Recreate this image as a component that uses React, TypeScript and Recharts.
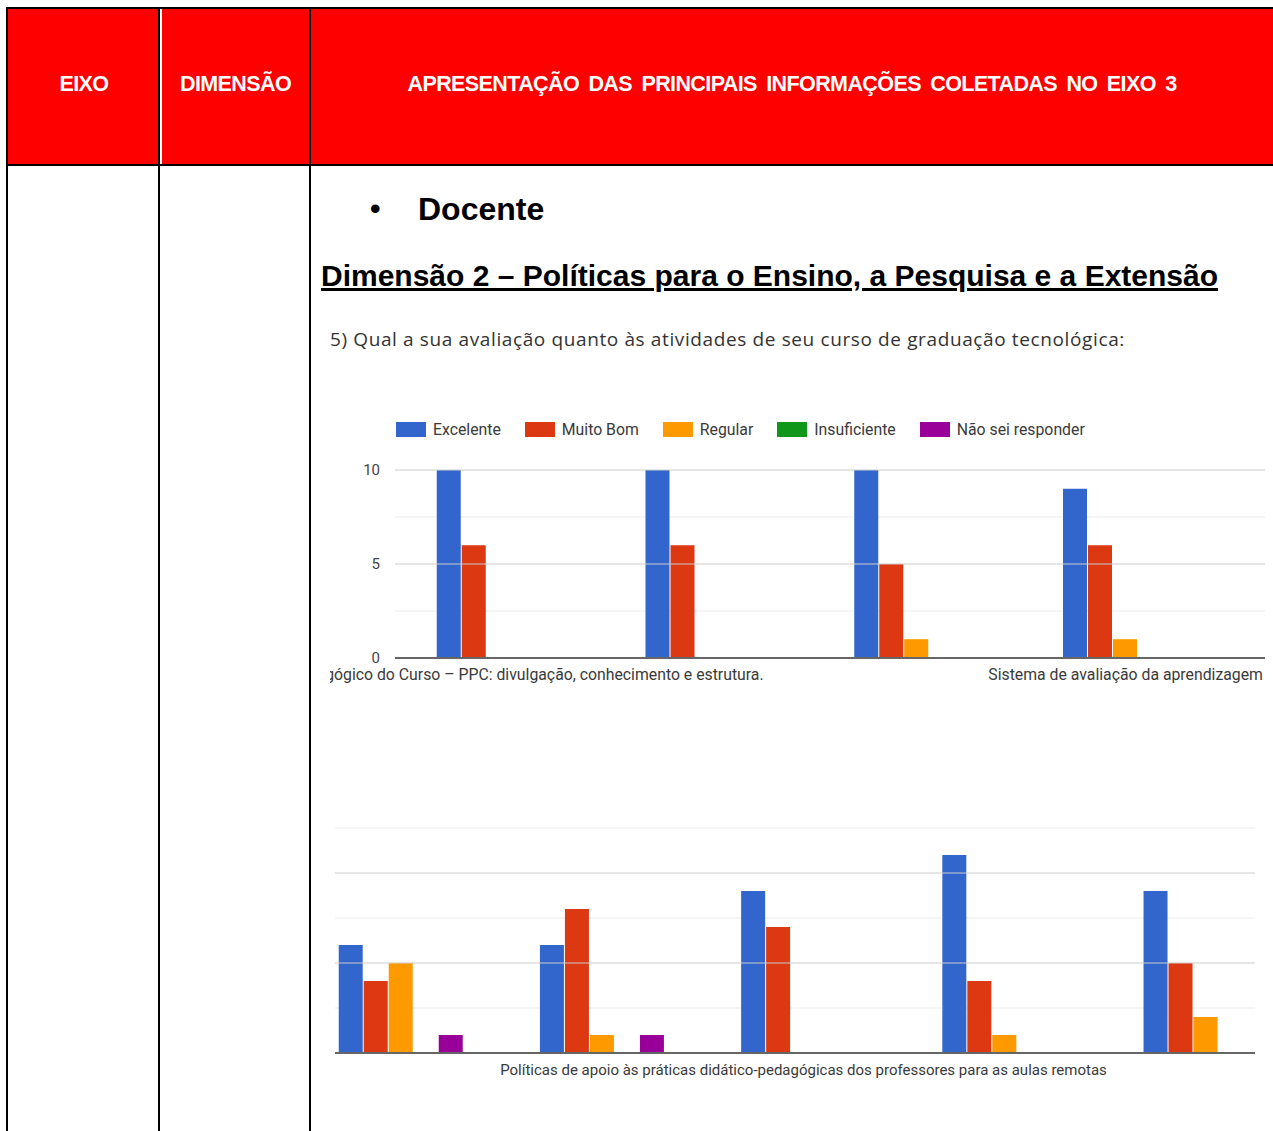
import React from "react";
import {
  BarChart,
  Bar,
  XAxis,
  YAxis,
  CartesianGrid,
  ReferenceLine,
  Legend,
} from "recharts";

const seriesNames = ["Excelente", "Muito Bom", "Regular", "Insuficiente", "Não sei responder"];
const seriesKeys = ["excelente", "muitoBom", "regular", "insuficiente", "naoSei"];
const seriesColors = ["#3366cc", "#dc3912", "#ff9900", "#109618", "#990099"];

// first chart: four items, only first and last labels are visible
const chart1Categories = [
  "Projeto Pedagógico do Curso – PPC: divulgação, conhecimento e estrutura.",
  "",
  "",
  "Sistema de avaliação da aprendizagem",
];
const chart1Excelente = [10, 10, 10, 9];
const chart1MuitoBom = [6, 6, 5, 6];
const chart1Regular = [0, 0, 1, 1];
const chart1Insuficiente = [0, 0, 0, 0];
const chart1NaoSei = [0, 0, 0, 0];
const chart1Ticks = [0, 5, 10];
const chart1Minor = [2.5, 7.5];

// second chart: five items, only the middle label is visible
const chart2Categories = [
  "",
  "",
  "Políticas de apoio às práticas didático-pedagógicas dos professores para as aulas remotas",
  "",
  "",
];
const chart2Excelente = [6, 6, 9, 11, 9];
const chart2MuitoBom = [4, 8, 7, 4, 5];
const chart2Regular = [5, 1, 0, 1, 2];
const chart2Insuficiente = [0, 0, 0, 0, 0];
const chart2NaoSei = [1, 1, 0, 0, 0];
const chart2Major = [5, 10];
const chart2Minor = [2.5, 7.5, 12.5];

function buildRows(cats: string[], cols: number[][]) {
  return cats.map((name, i) => {
    const row: Record<string, string | number> = { name };
    seriesKeys.forEach((k, j) => (row[k] = cols[j][i]));
    return row;
  });
}

const chart1Data = buildRows(chart1Categories, [
  chart1Excelente,
  chart1MuitoBom,
  chart1Regular,
  chart1Insuficiente,
  chart1NaoSei,
]);
const chart2Data = buildRows(chart2Categories, [
  chart2Excelente,
  chart2MuitoBom,
  chart2Regular,
  chart2Insuficiente,
  chart2NaoSei,
]);

const chartFont = "Roboto, Arial, sans-serif";
const docFont = "'Liberation Sans', Arial, sans-serif";

function makeTick(fontSize: number) {
  return function CategoryTick({ x, y, payload }: any) {
    if (!payload?.value) return null;
    return (
      <text x={x} y={y} dy={14} textAnchor="middle" fontFamily={chartFont} fontSize={fontSize} fill="#3a3a3a">
        {payload.value}
      </text>
    );
  };
}
const Tick1 = makeTick(15.8);
const Tick2 = makeTick(15);

// legend drawn in series order (recharts would sort it by name)
function LegendRow() {
  return (
    <div style={{ display: "flex", alignItems: "center", fontFamily: chartFont, fontSize: 15.8, color: "#3a3a3a" }}>
      {seriesNames.map((n, i) => (
        <div key={n} style={{ display: "flex", alignItems: "center", marginRight: 24 }}>
          <span style={{ display: "inline-block", width: 30, height: 15, background: seriesColors[i], marginRight: 7 }} />
          {n}
        </div>
      ))}
    </div>
  );
}

function renderBars() {
  return seriesKeys.map((k, i) => (
    <Bar key={k} dataKey={k} name={seriesNames[i]} fill={seriesColors[i]} isAnimationActive={false} />
  ));
}

const line = (style: React.CSSProperties) => (
  <div style={{ position: "absolute", background: "#000", ...style }} />
);

export default function App() {
  return (
    <div style={{ position: "absolute", left: 0, top: 0, width: 1273, height: 1131, background: "#fff", overflow: "hidden" }}>
      {/* header row */}
      <div style={{ position: "absolute", left: 8, top: 9, width: 1265, height: 155, background: "#ff0000" }} />
      <div style={{ position: "absolute", left: 160, top: 9, width: 1.5, height: 155, background: "#fff" }} />
      {line({ left: 6, top: 7, width: 1267, height: 2 })}
      {line({ left: 6, top: 164, width: 1267, height: 2 })}
      {line({ left: 6, top: 7, width: 2, height: 1124 })}
      {line({ left: 158, top: 7, width: 2, height: 1124 })}
      {line({ left: 309, top: 7, width: 2, height: 1124 })}

      {[
        { text: "EIXO", left: 8, width: 152 },
        { text: "DIMENSÃO", left: 160, width: 151 },
        { text: "APRESENTAÇÃO DAS PRINCIPAIS INFORMAÇÕES COLETADAS NO EIXO 3", left: 311, width: 962 },
      ].map((h) => (
        <div
          key={h.text}
          style={{
            position: "absolute",
            left: h.left,
            width: h.width,
            top: 71,
            lineHeight: "26px",
            textAlign: "center",
            color: "#fff",
            fontFamily: docFont,
            fontWeight: 700,
            fontSize: 21.5,
            letterSpacing: -0.6,
            wordSpacing: 4,
            whiteSpace: "nowrap",
          }}
        >
          {h.text}
        </div>
      ))}

      {/* body texts */}
      <div style={{ position: "absolute", left: 370, top: 189, lineHeight: "40px", fontFamily: docFont, fontSize: 30, fontWeight: 700 }}>
        •
      </div>
      <div style={{ position: "absolute", left: 418, top: 189, lineHeight: "40px", fontFamily: docFont, fontSize: 32, fontWeight: 700, color: "#000" }}>
        Docente
      </div>
      <div
        style={{
          position: "absolute",
          left: 321,
          top: 257,
          lineHeight: "38px",
          fontFamily: docFont,
          fontSize: 30,
          fontWeight: 700,
          textDecoration: "underline",
          textDecorationThickness: 3,
          whiteSpace: "nowrap",
          color: "#000",
        }}
      >
        Dimensão 2 – Políticas para o Ensino, a Pesquisa e a Extensão
      </div>
      <div
        style={{
          position: "absolute",
          left: 330,
          top: 326,
          lineHeight: "27px",
          fontFamily: "'Open Sans', sans-serif",
          fontSize: 19,
          letterSpacing: 0.62,
          color: "#333",
          whiteSpace: "nowrap",
        }}
      >
        5) Qual a sua avaliação quanto às atividades de seu curso de graduação tecnológica:
      </div>

      {/* chart 1 */}
      <div style={{ position: "absolute", left: 330, top: 400, width: 943, height: 300, overflow: "hidden" }}>
        <BarChart
          width={943}
          height={300}
          data={chart1Data}
          margin={{ top: 70, right: 8, bottom: 12, left: 35 }}
          barCategoryGap="20%"
          barGap={1}
        >
          <CartesianGrid vertical={false} horizontalValues={chart1Minor} stroke="#ebebeb" />
          <ReferenceLine y={5} stroke="#cccccc" />
          <ReferenceLine y={10} stroke="#cccccc" />
          <XAxis
            dataKey="name"
            height={30}
            tickLine={false}
            interval={0}
            padding={{ left: 0, right: 35 }}
            axisLine={{ stroke: "#666", strokeWidth: 2 }}
            tick={<Tick1 />}
          />
          <YAxis
            width={30}
            domain={[0, 10]}
            ticks={chart1Ticks}
            axisLine={false}
            tickLine={false}
            tickSize={0}
            tickMargin={15}
            tick={{ fontFamily: chartFont, fontSize: 15, fill: "#444" }}
          />
          <Legend
            verticalAlign="middle"
            align="center"
            layout="horizontal"
            wrapperStyle={{ top: 20, left: 66, width: 850 }}
            content={<LegendRow />}
          />
          {renderBars()}
        </BarChart>
      </div>

      {/* chart 2 */}
      <div style={{ position: "absolute", left: 335, top: 800, width: 920, height: 300, overflow: "hidden" }}>
        <div style={{ position: "absolute", left: -60, top: 0 }}>
          <BarChart
            width={1060}
            height={300}
            data={chart2Data}
            margin={{ top: 28, right: 28.5, bottom: 17, left: 25.5 }}
            barCategoryGap="19%"
            barGap={1}
          >
            <CartesianGrid vertical={false} horizontalValues={chart2Minor} stroke="#ebebeb" />
            {chart2Major.map((v) => (
              <ReferenceLine key={v} y={v} stroke="#cccccc" />
            ))}
            <XAxis
              dataKey="name"
              height={30}
              tickLine={false}
              interval={0}
              axisLine={{ stroke: "#666", strokeWidth: 2 }}
              tick={<Tick2 />}
            />
            <YAxis hide domain={[0, 12.5]} />
            {renderBars()}
          </BarChart>
        </div>
      </div>
    </div>
  );
}
